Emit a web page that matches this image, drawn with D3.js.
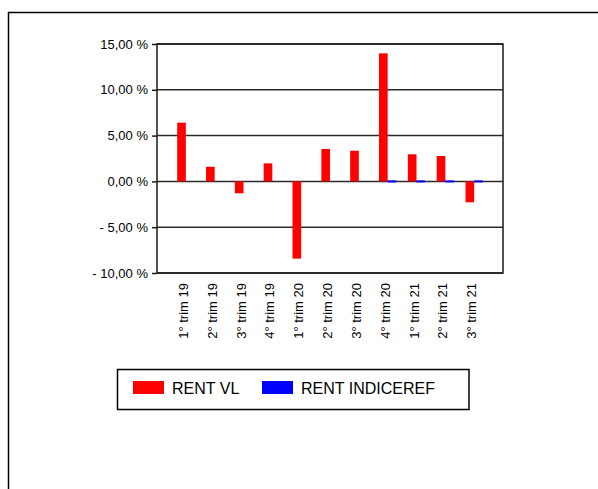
<!DOCTYPE html>
<html>
<head>
<meta charset="utf-8">
<script src="https://cdn.jsdelivr.net/npm/d3@7"></script>
<style>
  body { margin: 0; background: #fff; }
  svg { display: block; font-family: "Liberation Sans", Arial, sans-serif; }
</style>
</head>
<body>
<script>
// quarters, two series (RENT INDICEREF only has tiny values at the end)
const categories = ['1° trim 19', '2° trim 19', '3° trim 19', '4° trim 19',
  '1° trim 20', '2° trim 20', '3° trim 20', '4° trim 20',
  '1° trim 21', '2° trim 21', '3° trim 21']
const rentVL = [6.41, 1.60, -1.30, 1.97, -8.43, 3.54, 3.35, 13.98, 2.96, 2.77, -2.28]
const rentIndice = [null, null, null, null, null, null, null, 0.1, 0.1, 0.1, 0.1]
const seriesNames = ['RENT VL', 'RENT INDICEREF']
const seriesColors = ['#ff0000', '#0000ff']
const yTicks = [15, 10, 5, 0, -5, -10]
const yTickLabels = ['15,00 %', '10,00 %', '5,00 %', '0,00 %', '- 5,00 %', '- 10,00 %']

const W = 598, H = 489
const plot = { left: 157, top: 44, right: 503, bottom: 273 }

const svg = d3.select('body').append('svg')
    .attr('width', W)
    .attr('height', H)

// outer frame (runs off the right and bottom)
svg.append('rect')
    .attr('x', 8.5).attr('y', 12.5)
    .attr('width', 800).attr('height', 800)
    .attr('fill', 'none')
    .attr('stroke', '#000')
    .attr('stroke-width', 1.5)

const xScale = d3.scalePoint()
    .domain(categories)
    .range([plot.left, plot.right])
    .padding(1)

const step = xScale.step()
const inner = d3.scaleBand()
    .domain(seriesNames)
    .range([-step * 0.3, step * 0.3])

const yScale = d3.scaleLinear()
    .domain([-10, 15])
    .range([plot.bottom, plot.top])

// grid lines
svg.append('g')
    .selectAll('line')
    .data(yTicks)
    .enter().append('line')
    .attr('x1', plot.left).attr('x2', plot.right)
    .attr('y1', d => yScale(d)).attr('y2', d => yScale(d))
    .attr('stroke', '#2a2a2a')
    .attr('stroke-width', 1.5)

// bars (tiny values get a minimum visible height)
const table = categories.map((c, i) => ({ cat: c, values: [rentVL[i], rentIndice[i]] }))
const groups = svg.append('g')
    .selectAll('g')
    .data(table)
    .enter().append('g')
    .attr('transform', d => `translate(${xScale(d.cat)},0)`)

const barH = v => Math.abs(yScale(v) - yScale(0))
groups.selectAll('rect')
    .data(d => d.values.map((v, j) => ({ v: v, s: seriesNames[j], color: seriesColors[j] })).filter(e => e.v !== null))
    .enter().append('rect')
    .attr('x', e => inner(e.s))
    .attr('width', inner.bandwidth())
    .attr('y', e => barH(e.v) < 2 ? yScale(0) - 1 : Math.min(yScale(e.v), yScale(0)))
    .attr('height', e => Math.max(barH(e.v), 2))
    .attr('fill', e => e.color)

// plot frame
svg.append('rect')
    .attr('x', plot.left).attr('y', plot.top)
    .attr('width', plot.right - plot.left)
    .attr('height', plot.bottom - plot.top)
    .attr('fill', 'none')
    .attr('stroke', '#1a1a1a')
    .attr('stroke-width', 1.5)

// y axis
const yAxis = d3.axisLeft(yScale)
    .tickValues(yTicks)
    .tickSize(5)
    .tickPadding(4)
    .tickFormat((d, i) => yTickLabels[i])

const gy = svg.append('g')
    .attr('transform', `translate(${plot.left},0)`)
    .call(yAxis)
gy.select('.domain').remove()
gy.selectAll('.tick line').attr('stroke', '#1a1a1a').attr('stroke-width', 1.5)
gy.selectAll('.tick text')
    .attr('font-size', 13)
    .attr('font-family', '"Liberation Sans", Arial, sans-serif')
    .attr('fill', '#000')

// x labels, rotated
svg.append('g')
    .selectAll('text')
    .data(categories)
    .enter().append('text')
    .attr('transform', d => `translate(${xScale(d) + 2},283) rotate(-90)`)
    .attr('text-anchor', 'end')
    .attr('font-size', 13)
    .attr('fill', '#000')
    .text(d => d)

// legend
const legend = svg.append('g')
legend.append('rect')
    .attr('x', 117.5).attr('y', 369.5)
    .attr('width', 351.5).attr('height', 40)
    .attr('fill', '#fff')
    .attr('stroke', '#000')
    .attr('stroke-width', 1.5)

const legendX = [133, 262]
seriesNames.forEach((name, i) => {
    legend.append('rect')
        .attr('x', legendX[i]).attr('y', 381)
        .attr('width', 31).attr('height', 13)
        .attr('fill', seriesColors[i])
    legend.append('text')
        .attr('x', legendX[i] + 39).attr('y', 393.5)
        .attr('font-size', 16)
        .attr('fill', '#000')
        .text(name)
})
</script>
</body>
</html>
